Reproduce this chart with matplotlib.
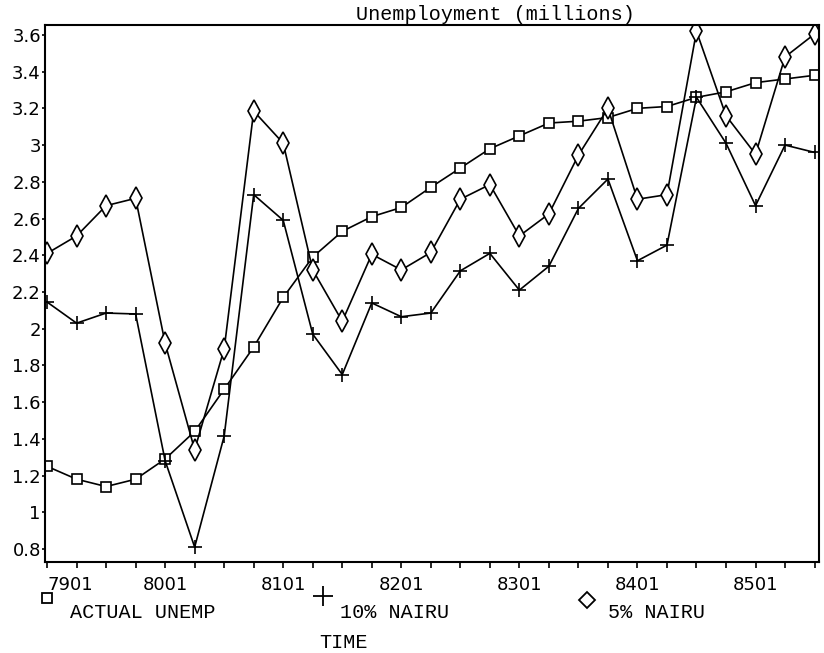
import numpy as np
import matplotlib.pyplot as plt
from matplotlib.lines import Line2D

# quarterly periods (YYQQ)
periods = ['7901', '7902', '7903', '7904',
           '8001', '8002', '8003', '8004',
           '8101', '8102', '8103', '8104',
           '8201', '8202', '8203', '8204',
           '8301', '8302', '8303', '8304',
           '8401', '8402', '8403', '8404',
           '8501', '8502', '8503']

# unemployment, millions
actual_unemp = [1.25, 1.18, 1.14, 1.18, 1.29, 1.44, 1.67, 1.90, 2.17,
                2.39, 2.53, 2.61, 2.66, 2.77, 2.875, 2.98, 3.05, 3.12,
                3.13, 3.15, 3.20, 3.21, 3.26, 3.29, 3.34, 3.36, 3.38]
nairu_10 = [2.145, 2.03, 2.085, 2.08, 1.28, 0.81, 1.415, 2.73, 2.59,
            1.97, 1.75, 2.14, 2.065, 2.085, 2.315, 2.41, 2.21, 2.34,
            2.655, 2.815, 2.37, 2.455, 3.26, 3.01, 2.67, 3.0, 2.96]
nairu_5 = [2.41, 2.505, 2.67, 2.71, 1.92, 1.34, 1.89, 3.185, 3.01,
           2.32, 2.04, 2.405, 2.32, 2.415, 2.705, 2.785, 2.505, 2.625,
           2.945, 3.2, 2.705, 2.73, 3.62, 3.16, 2.95, 3.48, 3.605]

year_ticks = ['7901', '8001', '8101', '8201', '8301', '8401', '8501']
y_ticks = [0.8, 1.0, 1.2, 1.4, 1.6, 1.8, 2.0, 2.2, 2.4, 2.6, 2.8, 3.0,
           3.2, 3.4, 3.6]

W, H = 824, 653
mono = 'Liberation Mono'

fig = plt.figure(figsize=(W / 100, H / 100), dpi=100)
ax = fig.add_axes([45 / W, 1 - 562 / H, (819 - 45) / W, (562 - 25) / H])

x = np.arange(len(periods))
line_kw = dict(color='black', lw=1.2, mec='black', mew=1.2)
ax.plot(x, actual_unemp, marker='s', ms=6.5, mfc='white', **line_kw)
ax.plot(x, nairu_10, marker='+', ms=9.5, **line_kw)
ax.plot(x, nairu_5, marker='d', ms=11, mfc='white', **line_kw)

ax.set_xlim(-0.07, 26.15)
ax.set_ylim(0.729, 3.654)

ax.set_xticks([periods.index(p) for p in year_ticks])
ax.set_xticklabels(year_ticks)
ax.set_xticks(x, minor=True)
ax.get_xticklabels()[0].set_horizontalalignment('left')
ax.set_yticks(y_ticks)
ax.set_yticklabels([f'{v:g}' for v in y_ticks])

ax.tick_params(axis='x', which='both', direction='out', length=4, width=1.2)
ax.tick_params(axis='x', which='major', pad=6, labelsize=13)
ax.tick_params(axis='y', direction='out', length=2, width=1.2, pad=1,
               labelsize=13)
for s in ax.spines.values():
    s.set_linewidth(1.5)

fig.text(495 / W, 1 - 15 / H, 'Unemployment (millions)', family=mono,
         fontsize=14.5, ha='center', va='center')

# legend under the axis, old plotter style
keys = [('s', 6.5, 47, 598, 'ACTUAL UNEMP', 70),
        ('+', 14, 323, 596, '10% NAIRU', 340),
        ('D', 8.5, 587, 600, '5% NAIRU', 608)]
for m, size, kx, ky, label, tx in keys:
    fig.add_artist(Line2D([kx / W], [1 - ky / H], marker=m, ms=size,
                          mfc='white', mec='black', mew=1.3, ls='none',
                          transform=fig.transFigure))
    fig.text(tx / W, 1 - 613 / H, label, family=mono, fontsize=14.5,
             va='center')
fig.text(343 / W, 1 - 643 / H, 'TIME', family=mono, fontsize=14.5,
         ha='center', va='center')

fig.savefig('out.png', dpi=100)
